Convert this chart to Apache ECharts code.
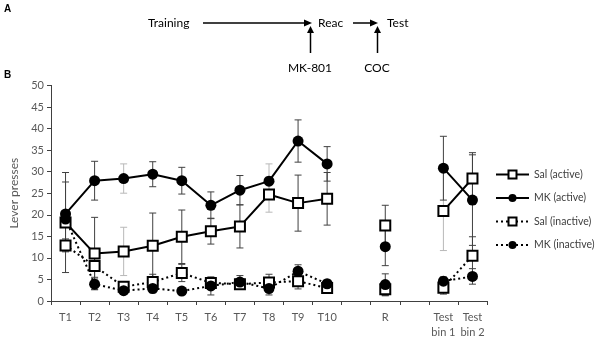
<!DOCTYPE html>
<html><head><meta charset="utf-8">
<script src="https://cdn.jsdelivr.net/npm/echarts@6/dist/echarts.min.js"></script>
<style>html,body{margin:0;padding:0;background:#fff}#c{width:600px;height:340px}</style>
</head><body><div id="c"></div>
<script>
const categories = ['T1','T2','T3','T4','T5','T6','T7','T8','T9','T10','','R','','Test\nbin 1','Test\nbin 2'];
const yTicks = [0,5,10,15,20,25,30,35,40,45,50];
const salActive   = [18.2, 11.0, 11.5, 12.8, 14.9, 16.2, 17.3, 24.7, 22.7, 23.7, null, 17.5, null, 20.9, 28.4];
const mkActive    = [20.2, 27.9, 28.4, 29.4, 27.9, 22.2, 25.7, 27.8, 37.1, 31.8, null, 12.6, null, 30.8, 23.4];
const salInactive = [12.9, 8.1, 3.3, 4.4, 6.5, 4.2, 3.9, 4.3, 4.6, 3.0, null, 2.7, null, 3.1, 10.5];
const mkInactive  = [19.0, 3.9, 2.4, 2.9, 2.3, 3.5, 4.4, 2.9, 6.9, 4.0, null, 3.8, null, 4.6, 5.7];
const salActiveErr   = [11.6, 8.4, 5.6, 7.6, 6.2, 3.0, 5.0, 4.1, 6.5, 6.1, null, 4.7, null, 9.2, 6.0];
const mkActiveErr    = [7.4, 4.5, 3.4, 2.9, 3.1, 3.1, 3.4, 4.0, 4.9, 4.0, null, 4.4, null, 7.4, 10.5];
const salInactiveErr = [1.5, 2.6, 1.0, 1.8, 2.0, 1.0, 1.2, 1.9, 1.8, 0.8, null, 1.5, null, 1.5, 4.4];
const mkInactiveErr  = [1.0, 1.2, 0.8, 1.0, 0.8, 2.1, 1.5, 1.5, 1.5, 0.8, null, 2.5, null, 1.0, 1.8];
const seriesNames = ['Sal (active)','MK (active)','Sal (inactive)','MK (inactive)'];

const FONT = 'Lato, "Open Sans", sans-serif';
const DARK = '#404040', LIGHT = '#b8b8b8';
// indices drawn with light grey error bars (style only)
const lightIdx = {0:[2,7,13], 1:[2,7]};

function errData(vals, errs){
  const out = [];
  vals.forEach((v,i)=>{ if(v!=null && errs[i]!=null) out.push([i, v-errs[i], v+errs[i]]); });
  return out;
}
function errSeries(k, vals, errs){
  const light = lightIdx[k] || [];
  return {
    type:'custom', z:1, silent:true, legendHoverLink:false,
    data: errData(vals, errs),
    renderItem(params, api){
      const i = api.value(0);
      const lo = api.coord([i, api.value(1)]);
      const hi = api.coord([i, api.value(2)]);
      const col = light.indexOf(i) >= 0 ? LIGHT : DARK;
      const w = 3.5;
      const st = {stroke:col, lineWidth:1};
      return {type:'group', children:[
        {type:'line', shape:{x1:lo[0],y1:lo[1],x2:hi[0],y2:hi[1]}, style:st},
        {type:'line', shape:{x1:lo[0]-w,y1:lo[1],x2:lo[0]+w,y2:lo[1]}, style:st},
        {type:'line', shape:{x1:hi[0]-w,y1:hi[1],x2:hi[0]+w,y2:hi[1]}, style:st}
      ]};
    }
  };
}
function lineSeries(name, vals, square, dotted){
  return {
    name, type:'line', z:3, data: vals, connectNulls:false,
    symbol: square ? 'rect' : 'circle', symbolSize: square ? 10 : 11,
    showAllSymbol:true,
    lineStyle:{color:'#000', width:2, type: dotted ? [2,3] : 'solid'},
    itemStyle: square ? {color:'#fff', borderColor:'#000', borderWidth:2} : {color:'#000', borderColor:'#000', borderWidth:0},
    emphasis:{disabled:true}, animation:false
  };
}

const chart = echarts.init(document.getElementById('c'), null, {renderer:'canvas'});
const txt = (t, x, y, opt) => Object.assign({type:'text', style:Object.assign({text:t, x, y, fill:'#000', font:'12px '+FONT, textAlign:'left', textVerticalAlign:'middle'}, opt||{})});
const ln = (x1,y1,x2,y2) => ({type:'line', shape:{x1,y1,x2,y2}, style:{stroke:'#000', lineWidth:1.5}});
const poly = pts => ({type:'polygon', shape:{points:pts}, style:{fill:'#000'}});

chart.setOption({
  animation:false,
  grid:{left:47, right:113, top:85.4, bottom:35.7},
  xAxis:{
    type:'category', data:categories, boundaryGap:true,
    axisLine:{lineStyle:{color:DARK, width:1}},
    axisTick:{show:true, interval:0, length:4, lineStyle:{color:DARK}},
    axisLabel:{interval:0, color:'#595959', fontSize:11, fontFamily:FONT, margin:9, lineHeight:15}
  },
  yAxis:{
    type:'value', min:yTicks[0], max:yTicks[yTicks.length-1], interval:5,
    name:'Lever presses', nameLocation:'middle', nameGap:31,
    nameTextStyle:{color:'#595959', fontSize:12, fontFamily:FONT},
    axisLine:{show:true, lineStyle:{color:DARK, width:1}},
    axisTick:{show:true, length:4, lineStyle:{color:DARK}},
    splitLine:{show:false},
    axisLabel:{color:'#595959', fontSize:11, fontFamily:FONT, margin:7}
  },
  legend:{
    orient:'vertical', left:495, top:169, itemWidth:33, itemHeight:10, itemGap:12.5, padding:0,
    data:seriesNames, selectedMode:false,
    textStyle:{color:'#404040', fontSize:10.5, fontFamily:FONT}
  },
  graphic:[
    txt('A', 4, 9, {font:'bold 10px "Liberation Sans", Arial, sans-serif'}),
    txt('B', 4, 75, {font:'bold 10px "Liberation Sans", Arial, sans-serif'}),
    txt('Training', 148, 23),
    txt('Reac', 318, 23),
    txt('Test', 387, 23),
    txt('MK-801', 310, 68, {textAlign:'center'}),
    txt('COC', 377, 68, {textAlign:'center'}),
    ln(203,23,305,23), poly([[304,19.5],[312,23],[304,26.5]]),
    ln(310.5,53,310.5,32), poly([[307,33],[310.5,26],[314,33]]),
    ln(353,23,371,23), poly([[370,19.5],[378,23],[370,26.5]]),
    ln(377.5,53,377.5,32), poly([[374,33],[377.5,26],[381,33]])
  ],
  series:[
    errSeries(0, salActive, salActiveErr),
    errSeries(1, mkActive, mkActiveErr),
    errSeries(2, salInactive, salInactiveErr),
    errSeries(3, mkInactive, mkInactiveErr),
    lineSeries(seriesNames[0], salActive, true, false),
    lineSeries(seriesNames[1], mkActive, false, false),
    lineSeries(seriesNames[2], salInactive, true, true),
    lineSeries(seriesNames[3], mkInactive, false, true)
  ]
});
</script></body></html>
